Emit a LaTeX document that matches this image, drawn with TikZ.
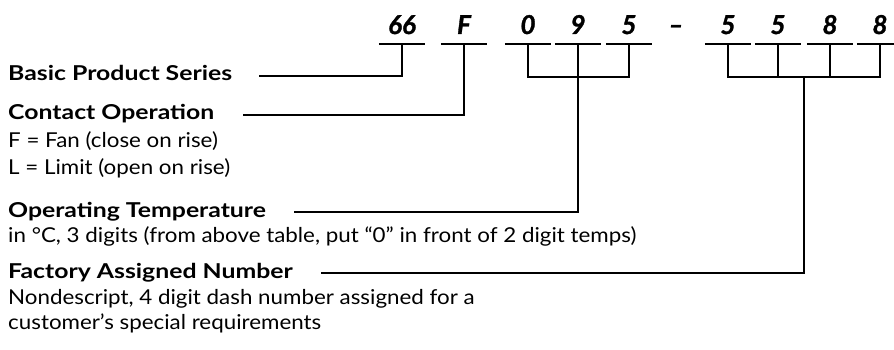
\documentclass[tikz,border=0pt]{standalone}
\usepackage{fontspec}
\setmainfont{Lato}[FakeStretch=1.09]
\newfontfamily\headfont{Lato}[FakeStretch=1.21]
\newfontfamily\digitfont{Lato}[FakeBold=1.2]
\usetikzlibrary{positioning,calc}

\begin{document}
\begin{tikzpicture}[
    x=1pt, y=-1pt,
    digit/.style={font=\digitfont\fontsize{26}{26}\selectfont\bfseries\itshape, minimum width=46pt, inner sep=0pt, text height=19pt, text depth=10pt, anchor=base},
    head/.style={font=\headfont\fontsize{20.5}{25}\selectfont\bfseries, anchor=west, inner sep=0pt, text height=15pt, text depth=5pt},
    body/.style={font=\fontsize{20.5}{25}\selectfont, anchor=west, inner sep=0pt, text height=15pt, text depth=5pt},
    link/.style={line width=2pt}
]
\useasboundingbox (0,0) rectangle (894,350);

% --- part number ---
\node[digit] (d1) at (402,34) {66};
\node[digit] (d2) at (464,34) {F};
\node[digit] (d3) at (528,34) {0};
\node[digit] (d4) at (578,34) {9};
\node[digit] (d5) at (629,34) {5};
\node[digit] (dash) at (676,34) {–};
\node[digit] (d6) at (728,34) {5};
\node[digit] (d7) at (778,34) {5};
\node[digit] (d8) at (830,34) {8};
\node[digit] (d9) at (880,34) {8};

\foreach \d in {d1,d2,d3,d4,d5,d6,d7,d8,d9}
    \draw[link] (\d.south west) -- (\d.south east);

% --- descriptions ---
\node[head] (basic) at (8,76) {Basic Product Series};
\node[head] (contact) at (8,115) {Contact Operation};
\node[body] (fan) at (8,143) {F = Fan (close on rise)};
\node[body] (limit) at (8,169) {L = Limit (open on rise)};
\node[head] (optemp) at (8,212) {Operating Temperature};
\node[body] (unit) at (8,237) {in °C, 3 digits (from above table, put “0” in front of 2 digit temps)};
\node[head] (factory) at (8,273) {Factory Assigned Number};
\node[body] (nondescript) at (8,299) {Nondescript, 4 digit dash number assigned for a};
\node[body] (customer) at (8,324) {customer’s special requirements};

% --- brackets ---
\coordinate (b1) at ($(d4.south)+(0,33)$);
\coordinate (b2) at ($(d6.south)!0.5!(d9.south)+(0,33)$);

\draw[link, shorten >=27pt] (d1.south) |- (basic);
\draw[link, shorten >=28pt] (d2.south) |- (contact);
\draw[link] (d3.south) |- (b1) -| (d5.south);
\draw[link, shorten >=28pt] (d4.south) |- (optemp);
\draw[link] (d6.south) |- (b2) -| (d9.south);
\foreach \d in {d7,d8}
    \draw[link] (\d.south) -- (\d.south |- b2);
\draw[link, shorten >=28pt] (b2) |- (factory);

\end{tikzpicture}
\end{document}
